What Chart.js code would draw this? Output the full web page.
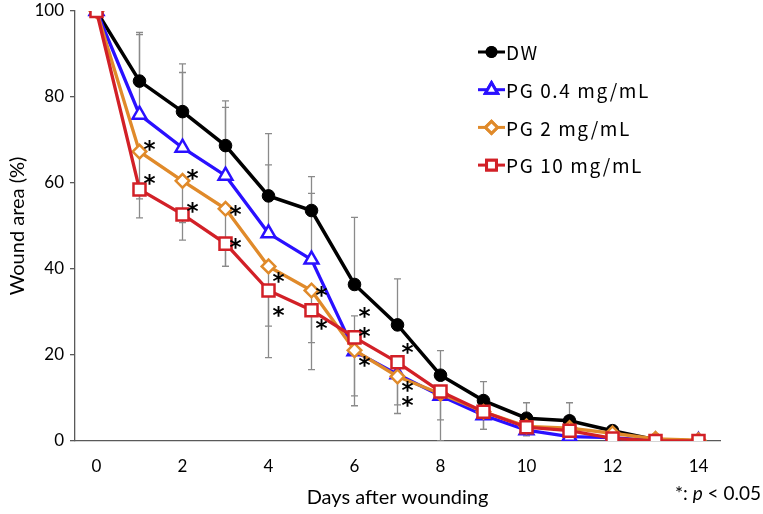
<!DOCTYPE html>
<html>
<head>
<meta charset="utf-8">
<script src="https://cdn.jsdelivr.net/npm/chart.js@4.4.0/dist/chart.umd.min.js"></script>
<style>
  html, body { margin: 0; padding: 0; background: #fff; }
  #wrap { width: 763px; height: 514px; position: relative; }
</style>
</head>
<body>
<div id="wrap"><canvas id="chart"></canvas></div>
<script>
// days after wounding
const days = [0, 1, 2, 3, 4, 5, 6, 7, 8, 9, 10, 11, 12, 13, 14];
const xTicks = [0, 2, 4, 6, 8, 10, 12, 14];
const yTicks = [0, 20, 40, 60, 80, 100];

// wound area (%)
const dw   = [100, 83.7, 76.6, 68.7, 57.0, 53.6, 36.4, 27.0, 15.3, 9.4, 5.3, 4.7, 2.4, 0.3, 0];
const pg04 = [100, 75.9, 68.2, 61.7, 48.3, 42.2, 20.9, 15.5, 10.5, 6.0, 2.5, 1.0, 0.8, 0.0, 0.0];
const pg2  = [100, 67.3, 60.5, 54.0, 40.6, 35.0, 21.1, 15.0, 11.0, 6.8, 3.4, 3.0, 1.8, 0.5, 0.2];
const pg10 = [100, 58.5, 52.7, 45.9, 35.0, 30.4, 24.1, 18.3, 11.5, 6.8, 3.2, 2.4, 0.6, 0.0, 0.0];

// SD (DW and PG 0.4 shown upward, PG 2 and PG 10 downward)
const dwSD   = [0, 11.3, 11.1, 10.4, 14.5, 7.9, 15.6, 10.7, 5.7, 4.4, 3.6, 4.2, 1.2, 0, 0];
const pg04SD = [0, 18.6, 17.5, 15.9, 15.9, 15.4, 8.2, 3.0, 2.0, 2.0, 1.0, 1.0, 0.5, 0, 0];
const pg2SD  = [0, 11.0, 9.7, 13.4, 13.9, 12.1, 10.6, 6.6, 6.1, 4.1, 1.5, 1.5, 0.8, 0, 0];
const pg10SD = [0, 6.6, 6.0, 5.3, 15.6, 13.8, 15.9, 11.9, 11.5, 4.1, 2.0, 1.5, 0.5, 0, 0];

// significance marks (*): day and level on the y axis
const sigDays   = [1, 1, 2, 2, 3, 3, 4, 4, 5, 5, 6, 6, 6, 7, 7, 7];
const sigLevels = [68.8, 60.9, 61.9, 54.2, 53.7, 46.0, 38.1, 30.2, 34.7, 27.0, 29.8, 25.3, 18.4, 21.6, 12.6, 9.1];

const seriesNames = ['DW', 'PG 0.4 mg/mL', 'PG 2 mg/mL', 'PG 10 mg/mL'];
const colors = ['#000000', '#2a10ff', '#e08a2a', '#d22027'];
const styles = ['circle', 'triangle', 'rectRot', 'rect'];

const toPoints = arr => days.map((d, i) => ({ x: d, y: arr[i] }));

const errorSets = [
  { mean: dw, sd: dwSD, dir: 1 },
  { mean: pg04, sd: pg04SD, dir: 1 },
  { mean: pg2, sd: pg2SD, dir: -1 },
  { mean: pg10, sd: pg10SD, dir: -1 }
];

const errorBars = {
  id: 'errorBars',
  beforeDatasetsDraw(chart) {
    const { ctx, chartArea, scales: { x, y } } = chart;
    ctx.save();
    ctx.beginPath();
    ctx.rect(chartArea.left, chartArea.top - 5, chartArea.width, chartArea.height + 5);
    ctx.clip();
    ctx.strokeStyle = '#8a8a8a';
    ctx.lineWidth = 1.3;
    errorSets.forEach(set => {
      days.forEach((d, i) => {
        const sd = set.sd[i];
        if (!sd) return;
        const px = x.getPixelForValue(d);
        const y0 = y.getPixelForValue(set.mean[i]);
        const y1 = y.getPixelForValue(set.mean[i] + set.dir * sd);
        ctx.beginPath();
        ctx.moveTo(px, y0);
        ctx.lineTo(px, y1);
        ctx.moveTo(px - 3.5, y1);
        ctx.lineTo(px + 3.5, y1);
        ctx.stroke();
      });
    });
    ctx.restore();
  }
};

const extras = {
  id: 'extras',
  afterDraw(chart) {
    const { ctx, scales: { x, y } } = chart;
    ctx.save();
    // asterisks
    ctx.fillStyle = '#000';
    ctx.font = 'bold 23px "DejaVu Sans"';
    ctx.textAlign = 'center';
    ctx.textBaseline = 'alphabetic';
    const m = ctx.measureText('*');
    const mid = (m.actualBoundingBoxAscent - m.actualBoundingBoxDescent) / 2;
    sigDays.forEach((d, i) => {
      ctx.fillText('*', x.getPixelForValue(d) + 10, y.getPixelForValue(sigLevels[i]) + mid);
    });

    // legend
    const lx = 478, ly = 52, gap = 37.7;
    seriesNames.forEach((name, i) => {
      const cy = ly + i * gap;
      ctx.strokeStyle = colors[i];
      ctx.lineWidth = 3;
      ctx.beginPath();
      ctx.moveTo(lx, cy);
      ctx.lineTo(lx + 27, cy);
      ctx.stroke();
      const r = [4.5, 7, 6, 7][i];
      ctx.fillStyle = i === 0 ? '#000' : '#fff';
      Chart.helpers.drawPoint(ctx, { pointStyle: styles[i], radius: r, borderWidth: 2.2, rotation: 0 }, lx + 13.5, cy);
      ctx.fill();
      ctx.stroke();
      ctx.fillStyle = '#000';
      ctx.font = '19px "Noto Sans CJK JP"';
      ctx.letterSpacing = '1.6px';
      ctx.textAlign = 'left';
      ctx.textBaseline = 'middle';
      ctx.fillText(name, lx + 28, cy + 1);
      ctx.letterSpacing = '0px';
    });

    // note: *: p < 0.05
    ctx.textBaseline = 'middle';
    ctx.textAlign = 'left';
    const parts = [['*: ', '19px Lato'], ['p', 'italic 19px Lato'], [' < 0.05', '19px Lato']];
    let total = 0;
    parts.forEach(p => { ctx.font = p[1]; total += ctx.measureText(p[0]).width; });
    let tx = 761 - total;
    parts.forEach(p => { ctx.font = p[1]; ctx.fillText(p[0], tx, 494); tx += ctx.measureText(p[0]).width; });
    ctx.restore();
  }
};

const datasets = [dw, pg04, pg2, pg10].map((arr, i) => ({
  label: seriesNames[i],
  data: toPoints(arr),
  borderColor: colors[i],
  backgroundColor: i === 0 ? '#000' : '#fff',
  borderWidth: i === 0 ? 3.5 : 3.3,
  pointStyle: styles[i],
  pointRadius: [6.3, 8, 6.8, 8.5][i],
  pointBorderWidth: i === 0 ? 1 : 2.5,
  pointBorderColor: colors[i],
  pointBackgroundColor: i === 0 ? '#000' : '#fff',
  tension: 0,
  order: 4 - i
}));

new Chart(document.getElementById('chart'), {
  type: 'line',
  data: { datasets },
  options: {
    responsive: true,
    maintainAspectRatio: false,
    animation: false,
    layout: { padding: { left: 0, right: 43, top: 0, bottom: 0 } },
    plugins: { legend: { display: false }, tooltip: { enabled: false } },
    scales: {
      x: {
        type: 'linear',
        min: -0.5,
        max: 14.5,
        afterBuildTicks: s => { s.ticks = xTicks.map(v => ({ value: v })); },
        afterFit: s => { s.height = 73; },
        grid: { display: false, drawTicks: false, tickLength: 0 },
        border: { display: true, color: '#595959', width: 1.3 },
        ticks: { color: '#000', font: { family: 'Lato', size: 17 }, padding: 15, maxRotation: 0, autoSkip: false },
        title: { display: true, text: 'Days after wounding', color: '#000', font: { family: 'Lato', size: 20 }, padding: { top: 0, bottom: 4 } }
      },
      y: {
        min: 0,
        max: 100,
        afterBuildTicks: s => { s.ticks = yTicks.map(v => ({ value: v })); },
        afterFit: s => { s.width = 75; s.paddingTop = 11; },
        grid: { drawOnChartArea: false, drawTicks: true, tickLength: 5, color: '#595959', lineWidth: 1.3 },
        border: { display: true, color: '#595959', width: 1.3 },
        ticks: { color: '#000', font: { family: 'Lato', size: 17 }, padding: 6 },
        title: { display: true, text: 'Wound area (%)', color: '#000', font: { family: 'Lato', size: 20 }, padding: { top: 6, bottom: 0 } }
      }
    }
  },
  plugins: [errorBars, extras]
});
</script>
</body>
</html>
